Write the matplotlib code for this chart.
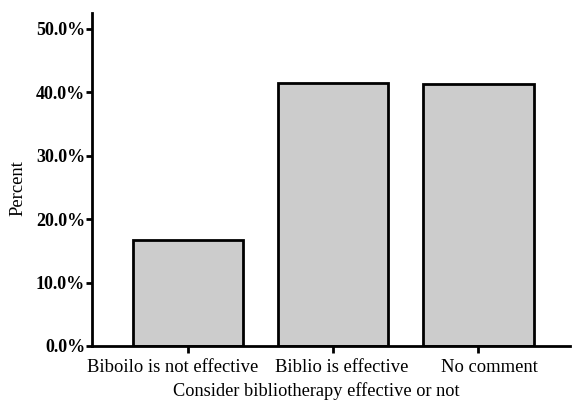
import matplotlib
matplotlib.use('Agg')
import matplotlib.pyplot as plt
from matplotlib.ticker import PercentFormatter

categories = ['Biboilo is not effective', 'Biblio is effective', 'No comment']
percents = [16.7, 41.5, 41.3]
y_ticks = [0, 10, 20, 30, 40, 50]

plt.rcParams['font.family'] = ['Liberation Serif', 'DejaVu Serif']

fig = plt.figure(figsize=(5.72, 4.0), dpi=100)
ax = fig.add_axes([0.161, 0.135, 0.8355, 0.8325])

x = list(range(len(categories)))
ax.bar(x, percents, width=0.76, color='#cccccc', edgecolor='black', linewidth=2)

ax.set_xlim(-0.66, 2.63)
ax.set_ylim(0, 52.5)
ax.set_yticks(y_ticks)
ax.yaxis.set_major_formatter(PercentFormatter(decimals=1))
ax.set_xticks(x)
ax.set_xticklabels([''] * len(x))
for lab in ax.get_yticklabels():
    lab.set_fontweight('bold')
    lab.set_fontsize(13)

# category labels, nudged sideways a bit like in the original
shifts = [-11, 6, 8]
for i, (name, dx) in enumerate(zip(categories, shifts)):
    ax.annotate(name, xy=(i, 0), xycoords=('data', 'axes fraction'),
                xytext=(dx, -9), textcoords='offset points',
                ha='center', va='top', fontsize=13.4)

ax.spines['top'].set_visible(False)
ax.spines['right'].set_visible(False)
ax.spines['left'].set_linewidth(2)
ax.spines['bottom'].set_linewidth(2)
ax.tick_params(axis='y', direction='out', width=2, length=4, pad=1)
ax.tick_params(axis='x', direction='out', width=2, length=5, pad=4)

ax.set_xlabel('Consider bibliotherapy effective or not', fontsize=13.2)
ax.xaxis.set_label_coords(0.47, -0.108)
ax.set_ylabel('Percent', fontsize=13.4)
ax.yaxis.set_label_coords(-0.138, 0.474)

plt.savefig('out.png', dpi=100)
plt.close()
